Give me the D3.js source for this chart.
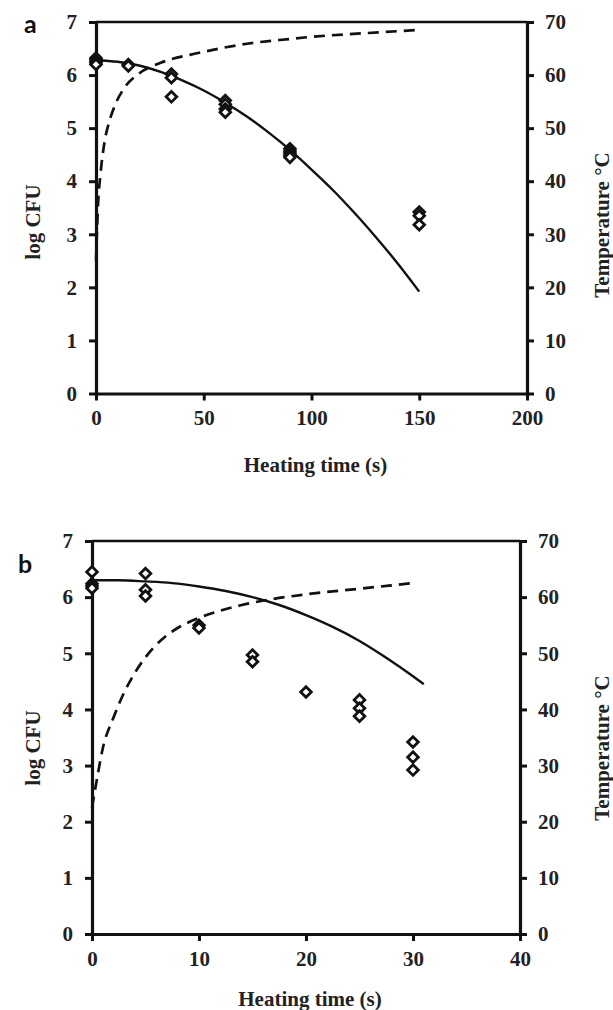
<!DOCTYPE html>
<html>
<head>
<meta charset="utf-8">
<script src="https://cdn.jsdelivr.net/npm/d3@7"></script>
<style>
  body { margin: 0; background: #fff; }
  svg { display: block; }
</style>
</head>
<body>
<svg id="chart" width="613" height="1010"></svg>
<script>
// Panel a: heating up to 150 s
let aPointTime = [0, 0, 0, 0, 0, 15, 15, 35, 35, 35, 60, 60, 60, 60, 90, 90, 90, 90, 90, 150, 150, 150];
let aPointLog  = [6.32, 6.29, 6.26, 6.23, 6.2, 6.2, 6.17, 6.02, 5.95, 5.59, 5.52, 5.45, 5.36, 5.3, 4.61, 4.57, 4.53, 4.49, 4.45, 3.42, 3.35, 3.18];
let aFitTime   = [0, 10, 20, 30, 40, 50, 60, 70, 80, 90, 100, 110, 120, 130, 140, 150];
let aFitLog    = [6.28, 6.25, 6.18, 6.06, 5.9, 5.71, 5.48, 5.22, 4.92, 4.59, 4.22, 3.83, 3.4, 2.94, 2.45, 1.92];
let aTempTime  = [0, 1, 2, 4, 6, 9, 13, 20, 30, 48, 70, 90, 100, 125, 150];
let aTempC     = [25, 36, 41, 47.5, 51, 54.5, 57.5, 60.3, 62.3, 64.2, 65.9, 66.8, 67.2, 67.9, 68.5];
let aXTicks    = [0, 50, 100, 150, 200];

// Panel b: heating up to 30 s
let bPointTime = [0, 0, 0, 0, 5, 5, 5, 10, 10, 15, 15, 20, 25, 25, 25, 30, 30, 30];
let bPointLog  = [6.45, 6.24, 6.2, 6.16, 6.42, 6.13, 6.02, 5.5, 5.45, 4.97, 4.85, 4.31, 4.17, 4.02, 3.88, 3.42, 3.15, 2.92];
let bFitTime   = [0, 2.5, 5, 7.5, 10, 12.5, 15, 17.5, 20, 22.5, 25, 27.5, 30, 31];
let bFitLog    = [6.3, 6.3, 6.28, 6.25, 6.19, 6.11, 6.0, 5.86, 5.68, 5.47, 5.22, 4.92, 4.59, 4.45];
let bTempTime  = [0, 0.5, 1, 2, 3, 4, 5, 6, 7, 8, 10, 12, 14, 17, 20, 25, 30];
let bTempC     = [22.5, 28, 33, 38.5, 43, 46.5, 49.3, 51.5, 53.2, 54.5, 56.3, 57.6, 58.6, 59.7, 60.5, 61.5, 62.5];
let bXTicks    = [0, 10, 20, 30, 40];

let logTicks  = [0, 1, 2, 3, 4, 5, 6, 7];
let tempTicks = [0, 10, 20, 30, 40, 50, 60, 70];

let kFont = "Liberation Serif";

let kPanels = [
  {
    "label": "a", "labelX": 24, "labelY": 33,
    "x": 96, "y": 22, "w": 431, "h": 371.5,
    "xMax": 200, "xTicks": aXTicks,
    "points": [aPointTime, aPointLog], "fit": [aFitTime, aFitLog], "temp": [aTempTime, aTempC],
    "leftTitleY": 222, "rightTitleY": 225, "bottomTitleY": 472
  },
  {
    "label": "b", "labelX": 18, "labelY": 573,
    "x": 92, "y": 541, "w": 428, "h": 393,
    "xMax": 40, "xTicks": bXTicks,
    "points": [bPointTime, bPointLog], "fit": [bFitTime, bFitLog], "temp": [bTempTime, bTempC],
    "leftTitleY": 748, "rightTitleY": 748, "bottomTitleY": 1006
  }
];

let svg = d3.select("#chart");

function serifBold(sel, size){
  sel.attr("font-family", kFont)
     .attr("font-weight", "bold")
     .attr("font-size", size);
}

function drawPanel(p){
  let g = svg.append("g");

  let x  = d3.scaleLinear().domain([0, p.xMax]).range([p.x, p.x + p.w]);
  let y  = d3.scaleLinear().domain([0, 7]).range([p.y + p.h, p.y]);
  let yT = d3.scaleLinear().domain([0, 70]).range([p.y + p.h, p.y]);

  // top border
  g.append("line")
    .attr("x1", p.x).attr("x2", p.x + p.w)
    .attr("y1", p.y).attr("y2", p.y)
    .attr("stroke", "#111").attr("stroke-width", 2.5);

  // axes
  let axLeft = g.append("g").attr("transform", "translate(" + p.x + ",0)")
    .call(d3.axisLeft(y).tickValues(logTicks).tickSizeInner(7).tickSizeOuter(0).tickPadding(12).tickFormat(d3.format("d")));
  let axRight = g.append("g").attr("transform", "translate(" + (p.x + p.w) + ",0)")
    .call(d3.axisRight(yT).tickValues(tempTicks).tickSizeInner(7).tickSizeOuter(0).tickPadding(11).tickFormat(d3.format("d")));
  let axBottom = g.append("g").attr("transform", "translate(0," + (p.y + p.h) + ")")
    .call(d3.axisBottom(x).tickValues(p.xTicks).tickSizeInner(7).tickSizeOuter(0).tickPadding(10).tickFormat(d3.format("d")));

  [axLeft, axRight, axBottom].forEach(function(ax){
    ax.call(serifBold, 21);
    ax.select(".domain").attr("stroke", "#111").attr("stroke-width", 3.2).attr("stroke-linecap", "square");
    ax.selectAll(".tick line").attr("stroke", "#111").attr("stroke-width", 3);
    ax.selectAll(".tick text").attr("fill", "#222");
  });

  // temperature (dashed)
  let tempLine = d3.line()
    .x(function(d, i){ return x(p.temp[0][i]); })
    .y(function(d){ return yT(d); })
    .curve(d3.curveMonotoneX);
  g.append("path")
    .attr("d", tempLine(p.temp[1]))
    .attr("fill", "none")
    .attr("stroke", "#111")
    .attr("stroke-width", 2.7)
    .attr("stroke-dasharray", "11,7");

  // model fit (solid)
  let fitLine = d3.line()
    .x(function(d, i){ return x(p.fit[0][i]); })
    .y(function(d){ return y(d); })
    .curve(d3.curveMonotoneX);
  g.append("path")
    .attr("d", fitLine(p.fit[1]))
    .attr("fill", "none")
    .attr("stroke", "#111")
    .attr("stroke-width", 2.4);

  // measured counts
  let diamond = d3.symbol().type(d3.symbolDiamond2).size(72);
  g.selectAll(".pt")
    .data(p.points[1])
    .enter()
    .append("path")
    .attr("class", "pt")
    .attr("d", diamond)
    .attr("transform", function(d, i){ return "translate(" + x(p.points[0][i]) + "," + y(d) + ")"; })
    .attr("fill", "#fff")
    .attr("stroke", "#111")
    .attr("stroke-width", 2.8);

  // titles
  g.append("text")
    .attr("transform", "translate(" + 40 + "," + p.leftTitleY + ") rotate(-90)")
    .attr("text-anchor", "middle")
    .attr("fill", "#222")
    .call(serifBold, 21)
    .text("log CFU");

  g.append("text")
    .attr("transform", "translate(" + 609 + "," + p.rightTitleY + ") rotate(-90)")
    .attr("text-anchor", "middle")
    .attr("fill", "#222")
    .call(serifBold, 21)
    .text("Temperature °C");

  g.append("text")
    .attr("x", p.x + p.w / 2 + 4)
    .attr("y", p.bottomTitleY)
    .attr("text-anchor", "middle")
    .attr("fill", "#222")
    .call(serifBold, 21)
    .text("Heating time (s)");

  // panel letter
  g.append("text")
    .attr("x", p.labelX)
    .attr("y", p.labelY)
    .attr("fill", "#111")
    .attr("font-family", "Lato")
    .attr("font-weight", "bold")
    .attr("font-size", 25)
    .text(p.label);
}

kPanels.forEach(drawPanel);
</script>
</body>
</html>
